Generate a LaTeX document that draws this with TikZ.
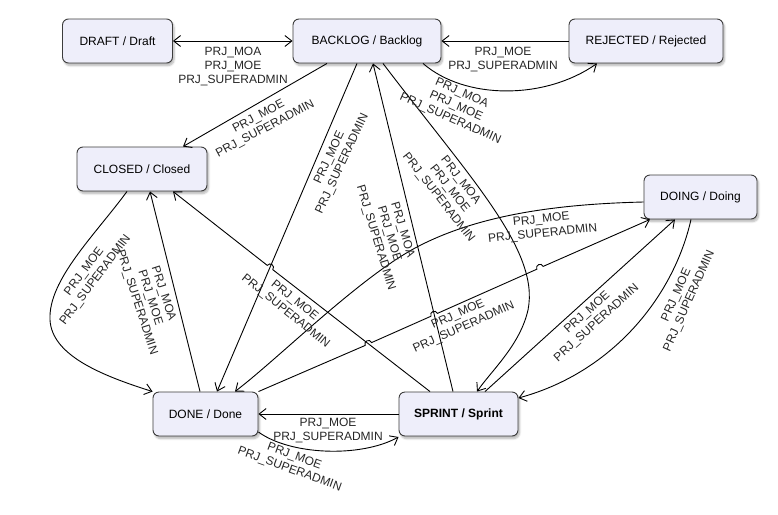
\documentclass[tikz,border=0pt]{standalone}
\usepackage{fontspec}
\setmainfont{Liberation Sans}
\usetikzlibrary{arrows.meta,shadows.blur}
\definecolor{statefill}{RGB}{238,238,250}
\definecolor{stateline}{RGB}{60,60,60}
\tikzset{
  state/.style={draw=stateline, line width=0.9pt, fill=statefill, rounded corners=6pt,
    minimum height=44pt, inner sep=0pt, font=\fontsize{12}{14}\selectfont,
    blur shadow={shadow xshift=1.5pt, shadow yshift=-2.5pt, shadow blur radius=2pt, shadow blur steps=6, shadow opacity=30}},
  arr/.style={draw=black, line width=0.9pt, -{Straight Barb[length=7pt,width=11pt]}},
  dblarr/.style={draw=black, line width=0.9pt, {Straight Barb[length=7pt,width=11pt]}-{Straight Barb[length=7pt,width=11pt]}},
  lbl/.style={font=\fontsize{12}{14}\selectfont, align=center, inner sep=0pt, text=black!85}
}
\begin{document}
\begin{tikzpicture}[x=1pt,y=-1pt]
\useasboundingbox (0,0) rectangle (778,514);

% states
\node[state, minimum width=110pt] (DRAFT) at (117.5,41) {DRAFT / Draft};
\node[state, minimum width=148pt] (BACKLOG) at (367,41) {BACKLOG / Backlog};
\node[state, minimum width=154pt] (REJECTED) at (646,41) {REJECTED / Rejected};
\node[state, minimum width=130pt] (CLOSED) at (142,169) {CLOSED / Closed};
\node[state, minimum width=113pt] (DOING) at (700.5,197) {DOING / Doing};
\node[state, minimum width=105pt] (DONE) at (205.5,414) {DONE / Done};
\node[state, minimum width=119pt] (SPRINT) at (458.5,414) {\bfseries SPRINT / Sprint};

% DRAFT <-> BACKLOG
\draw[dblarr] (DRAFT.east) -- (BACKLOG.west);
% REJECTED -> BACKLOG
\draw[arr] (REJECTED.west) -- (BACKLOG.east);
% BACKLOG -> REJECTED (curve)
\draw[arr] ([xshift=56pt]BACKLOG.south) .. controls (465,100) and (545,100) .. ([xshift=-49pt]REJECTED.south);
% BACKLOG -> CLOSED
\draw[arr] ([xshift=-40pt]BACKLOG.south) -- ([xshift=41pt]CLOSED.north);
% BACKLOG -> DONE
\draw[arr] ([xshift=-10pt]BACKLOG.south) -- ([xshift=11.5pt]DONE.north);
% SPRINT -> BACKLOG
\draw[arr] ([xshift=-5.5pt]SPRINT.north) -- ([xshift=6pt]BACKLOG.south);
% BACKLOG -> SPRINT (curve)
\draw[arr] ([xshift=16pt]BACKLOG.south) .. controls (470,178) and (540,250) .. (528,310)
  .. controls (520,345) and (492,370) .. ([xshift=18.5pt]SPRINT.north);
% SPRINT -> CLOSED (with jump)
\draw[arr] ([xshift=-28.5pt]SPRINT.north) -- (272.76,269.65)
  .. controls (275.63,265.97) and (270.11,261.67) .. (267.24,265.35)
  -- ([xshift=31pt]CLOSED.south);
% DONE -> DOING (with jumps)
\draw[arr] (DONE.north east) -- (365.2,345.42)
  .. controls (363.31,341.15) and (369.71,338.31) .. (371.6,342.58)
  -- (431.0,316.22) .. controls (429.11,311.95) and (435.51,309.11) .. (437.4,313.38)
  -- (536.8,269.22) .. controls (534.91,264.95) and (541.31,262.11) .. (543.2,266.38)
  -- ([xshift=-50.5pt]DOING.south);
% DOING -> DONE (curve)
\draw[arr] ([yshift=-5pt]DOING.west) .. controls (560,204) and (480,214) .. (417,247)
  .. controls (360,277) and (280,357) .. ([xshift=29.5pt]DONE.north);
% DOING -> SPRINT (curve)
\draw[arr] ([xshift=-9.5pt]DOING.south) .. controls (674,295) and (614,372) .. ([yshift=16pt]SPRINT.east);
% SPRINT -> DOING
\draw[arr] ([xshift=26.5pt]SPRINT.north) -- ([xshift=-25.5pt]DOING.south);
% CLOSED -> DONE (curve)
\draw[arr] ([xshift=-15pt]CLOSED.south) .. controls (95,235) and (48,280) .. (50,320)
  .. controls (52,355) and (100,375) .. (DONE.north west);
% DONE -> CLOSED
\draw[arr] ([xshift=-5.5pt]DONE.north) -- ([xshift=8pt]CLOSED.south);
% SPRINT -> DONE
\draw[arr] (SPRINT.west) -- (DONE.east);
% DONE -> SPRINT (curve)
\draw[arr] ([yshift=-18pt]DONE.east) .. controls (290,455) and (360,458) .. ([yshift=-23pt]SPRINT.west);

% labels
\node[lbl] (l1) at (233,67) {PRJ\_MOA\\PRJ\_MOE\\PRJ\_SUPERADMIN};
\node[lbl] (l2) at (503,60) {PRJ\_MOE\\PRJ\_SUPERADMIN};
\node[lbl, rotate=-24] (l3) at (456,106) {PRJ\_MOA\\PRJ\_MOE\\PRJ\_SUPERADMIN};
\node[lbl, rotate=28] (l4) at (262,123) {PRJ\_MOE\\PRJ\_SUPERADMIN};
\node[lbl, rotate=65] (l5) at (336,161) {PRJ\_MOE\\PRJ\_SUPERADMIN};
\node[lbl, rotate=-73] (l6) at (389,234) {PRJ\_MOA\\PRJ\_MOE\\PRJ\_SUPERADMIN};
\node[lbl, rotate=-52] (l7) at (449.5,189) {PRJ\_MOA\\PRJ\_MOE\\PRJ\_SUPERADMIN};
\node[lbl, rotate=6] (l8) at (542,227) {PRJ\_MOE\\PRJ\_SUPERADMIN};
\node[lbl, rotate=24] (l9) at (461,321) {PRJ\_MOE\\PRJ\_SUPERADMIN};
\node[lbl, rotate=66] (l10) at (683,298) {PRJ\_MOE\\PRJ\_SUPERADMIN};
\node[lbl, rotate=53] (l11) at (90,276) {PRJ\_MOE\\PRJ\_SUPERADMIN};
\node[lbl, rotate=-72] (l12) at (150,298) {PRJ\_MOA\\PRJ\_MOE\\PRJ\_SUPERADMIN};
\node[lbl, rotate=-39] (l13) at (290,306) {PRJ\_MOE\\PRJ\_SUPERADMIN};
\node[lbl] (l14) at (328,430) {PRJ\_MOE\\PRJ\_SUPERADMIN};
\node[lbl, rotate=-20] (l15) at (292,463) {PRJ\_MOE\\PRJ\_SUPERADMIN};
\node[lbl, rotate=42] (l16) at (592,318) {PRJ\_MOE\\PRJ\_SUPERADMIN};
\end{tikzpicture}
\end{document}
